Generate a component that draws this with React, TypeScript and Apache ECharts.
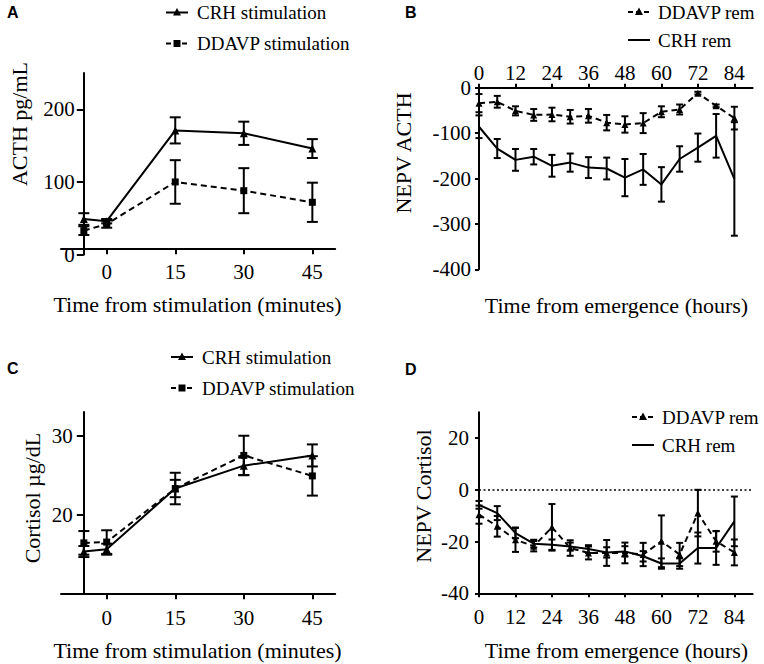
import React, { useEffect, useRef } from "react";
import * as echarts from "echarts";

// ---------- data ----------
const stimTimes = [-5, 0, 15, 30, 45];
const acthCrh = [49, 46, 171, 167, 146];
const acthCrhErr = [8, 3, 18, 16, 13];
const acthDdavp = [33, 42, 100, 88, 72];
const acthDdavpErr = [6, 5, 30, 31, 27];

const cortCrh = [15.3, 15.6, 23.3, 26.2, 27.5];
const cortCrhErr = [0.7, 0.7, 1.1, 1.2, 1.4];
const cortDdavp = [16.4, 16.5, 23.3, 27.5, 24.9];
const cortDdavpErr = [1.5, 1.5, 2.0, 2.5, 2.5];

const emergeHours = [0, 6, 12, 18, 24, 30, 36, 42, 48, 54, 60, 66, 72, 78, 84];
const nepvActhDdavp = [-34, -31, -51, -60, -59, -64, -62, -77, -81, -78, -53, -48, -12, -40, -67];
const nepvActhDdavpErr = [20, 13, 10, 13, 15, 15, 15, 17, 18, 22, 12, 11, 3, 3, 25];
const nepvActhCrh = [-86, -134, -159, -152, -172, -165, -176, -178, -198, -180, -213, -157, -132, -106, -201];
const nepvActhCrhErr = [25, 21, 24, 17, 24, 20, 23, 24, 41, 34, 38, 28, 31, 48, 125];

const nepvCortDdavp = [-9.6, -14.1, -19.3, -21.8, -14.5, -22.5, -24.4, -24.4, -24.4, -25, -19.9, -25, -9, -19.9, -24.2];
const nepvCortDdavpErr = [3.5, 4, 4.7, 2, 9, 3, 2.5, 5, 4, 4.5, 10, 4.5, 9, 4, 5];
const nepvCortCrh = [-5.8, -9, -16.7, -20.8, -21.2, -21.9, -22.9, -24.2, -23.8, -25.7, -28.5, -28.5, -22.5, -22.5, -12.2];
const nepvCortCrhErr = [1.5, 2.7, 2, 1.5, 2, 1.5, 1.5, 2, 2, 2, 2, 2, 6, 6.5, 9.6];

const stimTicks = [0, 15, 30, 45];
const hourTicks = [0, 12, 24, 36, 48, 60, 72, 84];
const acthTicks = [0, 100, 200];
const nepvActhTicks = [0, -100, -200, -300, -400];
const cortTicks = [20, 30];
const nepvCortTicks = [-40, -20, 0, 20];

const SERIF = "Liberation Serif, Times New Roman, serif";
const SANS = "Liberation Sans, Arial, sans-serif";

const pts = (xs: number[], ys: number[]) => xs.map((x, i) => [x, ys[i]]);
const errData = (xs: number[], ys: number[], es: number[]) =>
  xs.map((x, i) => [x, ys[i] - es[i], ys[i] + es[i]]);

function errorBars(xs: number[], ys: number[], es: number[], gi: number, cap: number) {
  return {
    type: "custom",
    coordinateSystem: "cartesian2d",
    xAxisIndex: gi,
    yAxisIndex: gi,
    data: errData(xs, ys, es),
    encode: { x: 0, y: [1, 2] },
    silent: true,
    z: 2,
    renderItem: (params: any, api: any) => {
      const x = api.value(0);
      const lo = api.value(1);
      const hi = api.value(2);
      const a = api.coord([x, hi]);
      const b = api.coord([x, lo]);
      const st = { stroke: "#000", lineWidth: 2 };
      return {
        type: "group",
        children: [
          { type: "line", shape: { x1: a[0], y1: a[1], x2: b[0], y2: b[1] }, style: st },
          { type: "line", shape: { x1: a[0] - cap, y1: a[1], x2: a[0] + cap, y2: a[1] }, style: st },
          { type: "line", shape: { x1: b[0] - cap, y1: b[1], x2: b[0] + cap, y2: b[1] }, style: st },
        ],
      };
    },
  };
}

function lineSeries(name: string, xs: number[], ys: number[], gi: number, dashed: boolean, symbol: string, size: number) {
  return {
    type: "line",
    name,
    xAxisIndex: gi,
    yAxisIndex: gi,
    data: pts(xs, ys),
    symbol: symbol || "none",
    symbolSize: size,
    showSymbol: !!symbol,
    lineStyle: { color: "#000", width: 2, type: dashed ? [6, 4] : "solid" },
    itemStyle: { color: "#000" },
    silent: true,
    z: 3,
  };
}

function xAxisDef(gi: number, min: number, max: number, ticks: number[], opts: any) {
  return {
    type: "value",
    gridIndex: gi,
    min,
    max,
    position: opts.position || "bottom",
    offset: opts.offset || 0,
    axisLine: { onZero: false, lineStyle: { color: "#000", width: 2 } },
    axisTick: { customValues: ticks, length: opts.tick, lineStyle: { color: "#000", width: 2 } },
    axisLabel: { customValues: ticks, margin: opts.margin, fontSize: 21, fontFamily: SERIF, color: "#000" },
    splitLine: { show: false },
  };
}

function yAxisDef(gi: number, min: number, max: number, ticks: number[], opts: any) {
  return {
    type: "value",
    gridIndex: gi,
    min,
    max,
    offset: opts.offset || 0,
    axisLine: { onZero: false, lineStyle: { color: "#000", width: 2 } },
    axisTick: { customValues: ticks, length: opts.tick, lineStyle: { color: "#000", width: 2 } },
    axisLabel: { customValues: ticks, margin: opts.margin, fontSize: 21, fontFamily: SERIF, color: "#000" },
    splitLine: { show: false },
  };
}

function txt(text: string, x: number, y: number, size: number, extra: any = {}) {
  return {
    type: "text",
    x,
    y,
    rotation: extra.rotation || 0,
    silent: true,
    style: {
      text,
      fontSize: size,
      fontFamily: extra.family || SERIF,
      fontWeight: extra.weight || "normal",
      fill: "#000",
      align: extra.align || "center",
      verticalAlign: "middle",
    },
  };
}

function legendItem(x1: number, x2: number, y: number, dashed: boolean, marker: string, text: string, tx: number) {
  const els: any[] = [
    {
      type: "line",
      silent: true,
      shape: { x1, y1: y, x2, y2: y },
      style: { stroke: "#000", lineWidth: 2, lineDash: dashed ? [5, 3] : null },
    },
  ];
  const mx = (x1 + x2) / 2;
  if (marker === "triangle") {
    els.push({
      type: "polygon",
      silent: true,
      shape: { points: [[mx, y - 4.5], [mx - 4, y + 3], [mx + 4, y + 3]] },
      style: { fill: "#000" },
    });
  } else if (marker === "rect") {
    els.push({ type: "rect", silent: true, shape: { x: mx - 3.5, y: y - 3.5, width: 7, height: 7 }, style: { fill: "#000" } });
  }
  els.push(txt(text, tx, y, 19, { align: "left" }));
  return els;
}

export default function App() {
  const ref = useRef<HTMLDivElement>(null);
  useEffect(() => {
    if (!ref.current) return;
    const chart = echarts.init(ref.current, null, { renderer: "svg" });
    const option: any = {
      animation: false,
      backgroundColor: "#fff",
      grid: [
        { left: 61, top: 73, width: 274.2, height: 181.6 },
        { left: 479, top: 87.7, width: 273.6, height: 181.6 },
        { left: 61, top: 412.1, width: 274.2, height: 181.2 },
        { left: 479, top: 412.2, width: 273.6, height: 181.1 },
      ],
      xAxis: [
        xAxisDef(0, -10, 50, stimTicks, { offset: -6.3, tick: 6, margin: 13 }),
        xAxisDef(1, 0, 90, hourTicks, { position: "top", tick: 4, margin: 4 }),
        xAxisDef(2, -10, 50, stimTicks, { tick: 6, margin: 14 }),
        xAxisDef(3, 0, 90, hourTicks, { tick: 4, margin: 13 }),
      ],
      yAxis: [
        yAxisDef(0, 0, 250, acthTicks, { offset: -22.8, tick: 7, margin: 9 }),
        yAxisDef(1, -400, 0, nepvActhTicks, { tick: 4, margin: 8 }),
        yAxisDef(2, 10, 33, cortTicks, { offset: -22.8, tick: 7, margin: 11 }),
        yAxisDef(3, -40, 30, nepvCortTicks, { tick: 4, margin: 10 }),
      ],
      series: [
        errorBars(stimTimes, acthCrh, acthCrhErr, 0, 5.5),
        errorBars(stimTimes, acthDdavp, acthDdavpErr, 0, 5.5),
        lineSeries("CRH stimulation", stimTimes, acthCrh, 0, false, "triangle", 8),
        lineSeries("DDAVP stimulation", stimTimes, acthDdavp, 0, true, "rect", 7),

        errorBars(emergeHours, nepvActhDdavp, nepvActhDdavpErr, 1, 3.5),
        errorBars(emergeHours, nepvActhCrh, nepvActhCrhErr, 1, 3.5),
        lineSeries("DDAVP rem", emergeHours, nepvActhDdavp, 1, true, "triangle", 7),
        lineSeries("CRH rem", emergeHours, nepvActhCrh, 1, false, "", 0),

        errorBars(stimTimes, cortCrh, cortCrhErr, 2, 5.5),
        errorBars(stimTimes, cortDdavp, cortDdavpErr, 2, 5.5),
        lineSeries("CRH stimulation", stimTimes, cortCrh, 2, false, "triangle", 8),
        lineSeries("DDAVP stimulation", stimTimes, cortDdavp, 2, true, "rect", 7),

        errorBars(emergeHours, nepvCortDdavp, nepvCortDdavpErr, 3, 3.5),
        errorBars(emergeHours, nepvCortCrh, nepvCortCrhErr, 3, 3.5),
        lineSeries("DDAVP rem", emergeHours, nepvCortDdavp, 3, true, "triangle", 7),
        {
          ...lineSeries("CRH rem", emergeHours, nepvCortCrh, 3, false, "", 0),
          markLine: {
            silent: true,
            symbol: "none",
            label: { show: false },
            lineStyle: { color: "#000", width: 1.5, type: [2, 2.5] },
            data: [{ yAxis: 0 }],
          },
        },
      ],
      graphic: [
        txt("A", 7, 12.5, 16, { family: SANS, weight: "bold", align: "left" }),
        txt("B", 405, 12.5, 16, { family: SANS, weight: "bold", align: "left" }),
        txt("C", 7, 368.5, 16, { family: SANS, weight: "bold", align: "left" }),
        txt("D", 405, 369, 16, { family: SANS, weight: "bold", align: "left" }),

        txt("Time from stimulation (minutes)", 197.5, 304.5, 22),
        txt("Time from emergence (hours)", 616.5, 305, 22),
        txt("Time from stimulation (minutes)", 197.5, 650, 22),
        txt("Time from emergence (hours)", 616.5, 650.5, 22),

        txt("ACTH pg/mL", 19, 124, 22, { rotation: Math.PI / 2 }),
        txt("NEPV ACTH", 403.5, 153, 22, { rotation: Math.PI / 2 }),
        txt("Cortisol µg/dL", 32.5, 498, 22, { rotation: Math.PI / 2 }),
        txt("NEPV Cortisol", 423.5, 496, 22, { rotation: Math.PI / 2 }),

        ...legendItem(166, 188, 12.5, false, "triangle", "CRH stimulation", 197),
        ...legendItem(166, 188, 43.5, true, "rect", "DDAVP stimulation", 197),
        ...legendItem(628, 650, 12, true, "triangle", "DDAVP rem", 658),
        ...legendItem(628, 650, 40, false, "", "CRH rem", 658),
        ...legendItem(171, 193, 357, false, "triangle", "CRH stimulation", 202),
        ...legendItem(171, 193, 388, true, "rect", "DDAVP stimulation", 202),
        ...legendItem(632, 654, 417, true, "triangle", "DDAVP rem", 662),
        ...legendItem(632, 654, 445, false, "", "CRH rem", 662),
      ],
    };
    chart.setOption(option);
    return () => chart.dispose();
  }, []);
  return (
    <div
      ref={ref}
      style={{ position: "absolute", left: 0, top: 0, width: 764, height: 664, background: "#fff" }}
    />
  );
}
